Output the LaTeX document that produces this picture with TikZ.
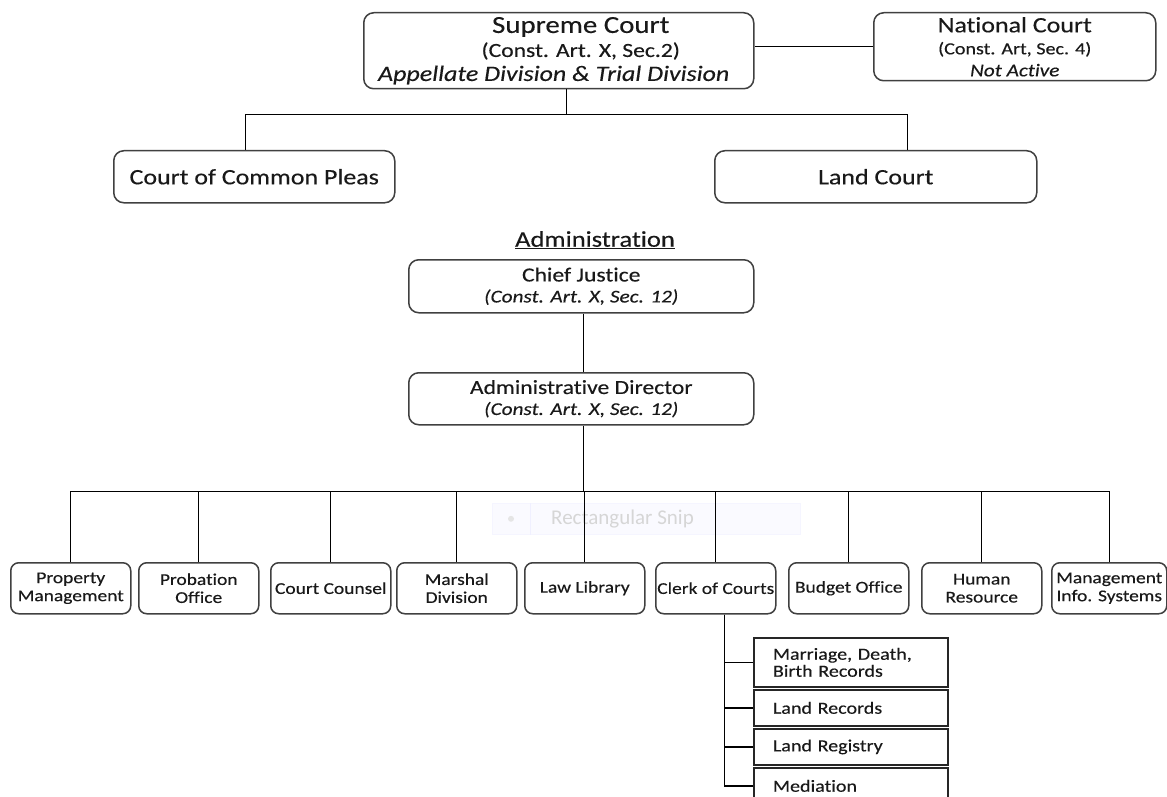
\documentclass[tikz,border=0pt]{standalone}
\usepackage{fontspec}
\setmainfont{Carlito}[FakeStretch=1.18, FakeBold=0.3, Ligatures=NoCommon]
\newfontfamily\snipfont{Carlito}[Ligatures=NoCommon]
\begin{document}
\begin{tikzpicture}[x=1pt,y=-1pt,
  rbox/.style={draw=black!75, line width=1.5pt, rounded corners=10pt, fill=white,
    inner sep=0pt, align=center, text=black!90, anchor=north west},
  smallbox/.style={rbox, rounded corners=8pt, minimum width=120, minimum height=51,
    font=\fontsize{16.5}{18}\selectfont},
  subbox/.style={draw=black!85, line width=1.8pt, fill=white, inner sep=0pt,
    minimum width=194, text width=156, align=left, text=black!90, anchor=north west,
    font=\fontsize{17}{17}\selectfont},
  conn/.style={draw=black, line width=1.3pt},
]
\useasboundingbox (0,0) rectangle (1167,797);

% faint screen-capture overlay
\node[fill=blue!2, draw=blue!4, line width=0.6pt, minimum width=308, minimum height=31,
  inner sep=0pt, anchor=north west] (snip) at (492,503) {};
\draw[blue!6, line width=0.8pt] ([xshift=38pt]snip.north west) -- ([xshift=38pt]snip.south west);
\fill[black!10] ([xshift=19pt]snip.west) circle (3);
\node[text=black!16, anchor=west, inner sep=0pt, font=\snipfont\fontsize{21}{22}\selectfont]
  (sniptext) at ([xshift=59pt]snip.west) {Rectangular Snip};

% top courts
\node[rbox, minimum width=390, minimum height=76, font=\fontsize{22}{24}\selectfont] (sc) at (363,12)
  {\hspace*{44pt}{\fontsize{24.5}{24}\selectfont Supreme Court}\\
   \hspace*{44pt}{\fontsize{20}{24}\selectfont (Const. Art. X, Sec.2)}\\
   \textit{Appellate Division \& Trial Division}\hspace*{10pt}};
\node[rbox, minimum width=282, minimum height=68, font=\fontsize{22}{22}\selectfont] (nc) at (873,12)
  {National Court\\
   {\fontsize{17}{22}\selectfont (Const. Art, Sec. 4)}\\
   {\fontsize{18}{22}\selectfont\itshape Not Active}};
\node[rbox, minimum width=281, minimum height=52, font=\fontsize{22}{24}\selectfont] (ccp) at (113,150)
  {Court of Common Pleas};
\node[rbox, minimum width=322, minimum height=52, font=\fontsize{22}{24}\selectfont] (lc) at (714,150)
  {Land Court};

\draw[conn] (nc.west) -- (nc.west -| sc.east);
\draw[conn] ([xshift=8pt]sc.south) -- ++(0,25) coordinate (tb);
\draw[conn] (tb) -| ([xshift=-8.5pt]ccp.north);
\draw[conn] (tb) -| ([xshift=32pt]lc.north);

% administration
\node[inner sep=0pt, text=black!90, font=\fontsize{22.5}{24}\selectfont] (admlabel) at (595,240)
  {\underline{Administration}};
\node[rbox, minimum width=345, minimum height=53, font=\fontsize{20}{21}\selectfont] (cj) at (408,259)
  {Chief Justice\\{\fontsize{18}{21}\selectfont\itshape (Const. Art. X, Sec. 12)}};
\node[rbox, minimum width=345, minimum height=52, font=\fontsize{20}{21}\selectfont] (ad) at (408,372)
  {Administrative Director\\{\fontsize{18}{21}\selectfont\itshape (Const. Art. X, Sec. 12)}};
\draw[conn] ([xshift=2.5pt]cj.south) -- ([xshift=2.5pt]ad.north);

% offices
\node[smallbox] (pm)  at (10,562)  {Property\\Management};
\node[smallbox] (po)  at (138,562) {Probation\\Office};
\node[smallbox] (ccn) at (270,562) {Court Counsel};
\node[smallbox] (md)  at (396,562) {Marshal\\Division};
\node[smallbox] (ll)  at (524,562) {Law Library};
\node[smallbox] (coc) at (655,562) {Clerk of Courts};
\node[smallbox] (bo)  at (788,562) {Budget Office};
\node[smallbox] (hr)  at (921,562) {Human\\Resource};
\node[smallbox, minimum width=115] (mis) at (1051,562) {Management\\Info. Systems};

\draw[conn] ([xshift=2.5pt]ad.south) -- ++(0,66) coordinate (bb);
\foreach \n in {pm,po,ccn,md,ll,coc,bo,hr,mis}{
  \draw[conn] (bb) -| (\n.north);
}

% clerk sub-units
\node[subbox, minimum height=49] (mdb) at (753,637) {Marriage, Death,\\Birth Records};
\node[subbox, minimum height=36] (lrec) at (753,689) {Land Records};
\node[subbox, minimum height=36] (lreg) at (753,728) {Land Registry};
\node[subbox, minimum height=36] (med) at (753,767) {Mediation};
\foreach \n in {mdb,lrec,lreg,med}{
  \draw[conn] ([xshift=9pt]coc.south) |- (\n.west);
}
\end{tikzpicture}
\end{document}
